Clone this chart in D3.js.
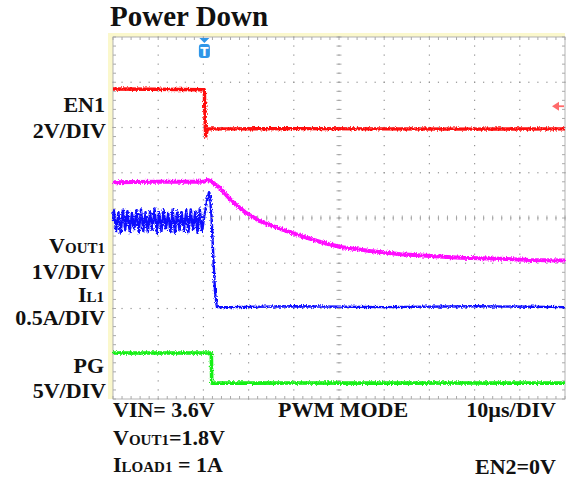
<!DOCTYPE html>
<html><head><meta charset="utf-8">
<script src="https://cdn.jsdelivr.net/npm/d3@7"></script>
<style>
html,body{margin:0;padding:0;background:#fff;}
svg{display:block;}
text{font-family:"Liberation Serif","Times New Roman",serif;font-weight:bold;fill:#111;}
</style></head><body>
<svg id="chart" width="568" height="486"></svg>
<script>
// Time base: 10 µs/div, trigger point at t = 0
const timeDomain = [-20, 80];
const divDomain = [-4, 4];

// EN1 (V)
const en1T = [-20, -12, -5, 0.2, 0.35, 0.5, 0.9, 6, 20, 40, 60, 80];
const en1V = [1.76, 1.75, 1.74, 1.73, 0.6, -0.35, 0.0, 0.0, 0.01, 0.0, -0.01, 0.0];

// VOUT1 (V)
const voutT = [-20, -10, 0, 1.0, 1.9, 3.7, 6.5, 9.2, 12.5, 17.0, 21.4, 25.9, 30.3, 36.9, 43.6, 50.2, 56.8, 65.7, 72.3, 80];
const voutV = [1.79, 1.80, 1.80, 1.84, 1.80, 1.66, 1.35, 1.13, 0.93, 0.76, 0.61, 0.47, 0.36, 0.27, 0.20, 0.16, 0.12, 0.10, 0.07, 0.06];

// IL1 (A): switching ripple, release spike, then zero
const il1T = [-20, -19.8, -19.3, -18.8, -18.3, -17.8, -17.3, -16.8, -16.3, -15.8, -15.3, -14.8, -14.3, -13.8, -13.3,
  -12.8, -12.3, -11.8, -11.3, -10.8, -10.3, -9.8, -9.3, -8.8, -8.3, -7.8, -7.3, -6.8, -6.3, -5.8, -5.3,
  -4.8, -4.3, -3.8, -3.3, -2.8, -2.3, -1.8, -1.3, -0.8, -0.3, 0.2, 0.7, 1.24, 1.5, 1.8, 2.2, 2.6, 3.0,
  6, 20, 40, 60, 80];
const il1A = [0.95, 1.07, 0.84, 1.05, 0.82, 1.08, 0.85, 1.06, 0.83, 1.04, 0.86, 1.07, 0.82, 1.08, 0.84,
  1.05, 0.83, 1.06, 0.85, 1.09, 0.82, 1.05, 0.84, 1.07, 0.86, 1.04, 0.83, 1.08, 0.82, 1.06, 0.85,
  1.05, 0.84, 1.07, 0.83, 1.08, 0.85, 1.06, 0.82, 1.09, 0.84, 1.00, 1.15, 1.27, 1.20, 1.00, 0.55, 0.15, 0.0,
  0.0, 0.01, 0.0, 0.01, 0.0];

// PG (V)
const pgT = [-20, -10, 0, 1.75, 1.85, 6, 20, 40, 60, 80];
const pgV = [3.33, 3.34, 3.33, 3.33, 0.0, 0.0, 0.01, 0.0, 0.01, 0.0];

// Trigger level on EN1 (V)
const triggerLevel = 1.0;

// Channel settings: vertical position (div) and scale per division
const channels = [
  {key: "en1",  t: en1T,  v: en1V,  offsetDiv: 1.97,  perDiv: 2,   color: "#ff0a0a", width: 3.4},
  {key: "vout", t: voutT, v: voutV, offsetDiv: -1.0,  perDiv: 1,   color: "#ff10ff", width: 4.0},
  {key: "il1",  t: il1T,  v: il1A,  offsetDiv: -1.97, perDiv: 0.5, color: "#0c0cff", width: 2.4},
  {key: "pg",   t: pgT,   v: pgV,   offsetDiv: -3.65, perDiv: 5,   color: "#14f014", width: 3.6}
];

const svg = d3.select("#chart");
const plot = {left: 113, right: 565, top: 37, bottom: 399};

const x = d3.scaleLinear().domain(timeDomain).range([plot.left, plot.right]);
const y = d3.scaleLinear().domain(divDomain).range([plot.bottom, plot.top]);

// Noise texture for the acquired traces
const defs = svg.append("defs");
const flt = defs.append("filter").attr("id", "jitter")
  .attr("filterUnits", "userSpaceOnUse").attr("x", 0).attr("y", 0).attr("width", 568).attr("height", 486);
flt.append("feTurbulence").attr("type", "fractalNoise").attr("baseFrequency", "1.2 0.5")
  .attr("numOctaves", 2).attr("seed", 7).attr("result", "n");
flt.append("feDisplacementMap").attr("in", "SourceGraphic").attr("in2", "n")
  .attr("scale", 4).attr("xChannelSelector", "R").attr("yChannelSelector", "G");

// Screen bezel strips
svg.append("rect").attr("x", 108).attr("y", 33).attr("width", plot.right - 108).attr("height", plot.top - 33)
  .attr("fill", "#fbf8cc");
svg.append("rect").attr("x", 108).attr("y", 33).attr("width", plot.left - 108).attr("height", plot.bottom - 33)
  .attr("fill", "#fbf8cc");

// Graticule
const grid = svg.append("g").attr("fill", "#939393");
const majorX = d3.range(1, 10).map(i => x(timeDomain[0] + i * 10));
const majorY = d3.range(1, 8).map(i => y(divDomain[0] + i));
const minorX = d3.range(0, 51).map(i => x(timeDomain[0] + i * 2));
const minorY = d3.range(0, 41).map(i => y(divDomain[0] + i * 0.2));

majorX.forEach(px => {
  grid.selectAll(null).data(minorY).join("rect")
    .attr("x", px - 0.6).attr("y", d => d - 0.6).attr("width", 1.2).attr("height", 1.2);
});
majorY.forEach(py => {
  grid.selectAll(null).data(minorX).join("rect")
    .attr("x", d => d - 0.6).attr("y", py - 0.6).attr("width", 1.2).attr("height", 1.2);
});

const ticks = svg.append("g").attr("stroke", "#a0a0a0").attr("stroke-width", 0.9);
const cx = x(30), cy = y(0);
ticks.selectAll(null).data(minorY).join("line")
  .attr("x1", cx - 2.5).attr("x2", cx + 2.5).attr("y1", d => d).attr("y2", d => d);
ticks.selectAll(null).data(minorX).join("line")
  .attr("y1", cy - 2.5).attr("y2", cy + 2.5).attr("x1", d => d).attr("x2", d => d);
// edge ticks
ticks.selectAll(null).data(minorX).join("line")
  .attr("y1", plot.top).attr("y2", plot.top + 3).attr("x1", d => d).attr("x2", d => d);
ticks.selectAll(null).data(minorX).join("line")
  .attr("y1", plot.bottom - 3).attr("y2", plot.bottom).attr("x1", d => d).attr("x2", d => d);
ticks.selectAll(null).data(minorY).join("line")
  .attr("x1", plot.left).attr("x2", plot.left + 3).attr("y1", d => d).attr("y2", d => d);
ticks.selectAll(null).data(minorY).join("line")
  .attr("x1", plot.right - 3).attr("x2", plot.right).attr("y1", d => d).attr("y2", d => d);

svg.append("rect").attr("x", plot.left).attr("y", plot.top)
  .attr("width", plot.right - plot.left).attr("height", plot.bottom - plot.top)
  .attr("fill", "none").attr("stroke", "#aaaaaa").attr("stroke-width", 0.9);

// Traces
const traces = svg.append("g").attr("filter", "url(#jitter)");
channels.forEach(ch => {
  const pts = ch.t.map((t, i) => [t, ch.v[i]]);
  const line = d3.line()
    .x(d => x(d[0]))
    .y(d => y(ch.offsetDiv + d[1] / ch.perDiv));
  traces.append("path").datum(pts)
    .attr("d", line)
    .attr("fill", "none")
    .attr("stroke", ch.color)
    .attr("stroke-width", ch.width)
    .attr("stroke-linejoin", "round");
});

// Trigger position marker
const tx = x(0) + 1;
svg.append("path")
  .attr("d", `M${tx - 5},${plot.top + 1} L${tx + 5},${plot.top + 1} L${tx},${plot.top + 6} Z`)
  .attr("fill", "#2f96e8");
svg.append("rect").attr("x", tx - 5.5).attr("y", plot.top + 7).attr("width", 11).attr("height", 14).attr("rx", 3)
  .attr("fill", "#2f96e8");
svg.append("text").attr("x", tx).attr("y", plot.top + 19).attr("text-anchor", "middle")
  .style("font-family", "'DejaVu Sans', sans-serif").style("font-size", "12px").style("fill", "#fff")
  .text("T");

// Trigger level marker on EN1
const en1 = channels[0];
const ty = y(en1.offsetDiv + triggerLevel / en1.perDiv);
svg.append("path")
  .attr("d", `M${plot.right - 13},${ty} L${plot.right - 6},${ty - 4.5} L${plot.right - 6},${ty + 4.5} Z`)
  .attr("fill", "#ff6a6a");
svg.append("line").attr("x1", plot.right - 7).attr("x2", plot.right - 1).attr("y1", ty).attr("y2", ty)
  .attr("stroke", "#ff6a6a").attr("stroke-width", 1.8);

// Title
svg.append("text").attr("x", 110).attr("y", 26).style("font-size", "29px").text("Power Down");

// Channel labels
const labelStyle = "22px";
const subStyle = "15px";
function label(xp, yp, parts, anchor) {
  const t = svg.append("text").attr("x", xp).attr("y", yp)
    .attr("text-anchor", anchor || "end").style("font-size", labelStyle);
  parts.forEach(p => {
    t.append("tspan").style("font-size", p.sub ? subStyle : labelStyle).text(p.s);
  });
  return t;
}
label(105, 112, [{s: "EN1"}]);
label(106, 138, [{s: "2V/DIV"}]);
label(105, 253, [{s: "V"}, {s: "OUT1", sub: true}]);
label(105, 279, [{s: "1V/DIV"}]);
label(104, 302, [{s: "I"}, {s: "L1", sub: true}]);
label(105, 325, [{s: "0.5A/DIV"}]);
label(104, 373, [{s: "PG"}]);
label(106, 398, [{s: "5V/DIV"}]);

// Test conditions
label(113, 417, [{s: "VIN= 3.6V"}], "start");
label(278, 417, [{s: "PWM MODE"}], "start");
label(556, 417, [{s: "10µs/DIV"}], "end");
label(113, 445, [{s: "V"}, {s: "OUT1", sub: true}, {s: "=1.8V"}], "start");
label(113, 472, [{s: "I"}, {s: "LOAD1", sub: true}, {s: " = 1A"}], "start");
label(556, 474, [{s: "EN2=0V"}], "end");
</script>
</body></html>
